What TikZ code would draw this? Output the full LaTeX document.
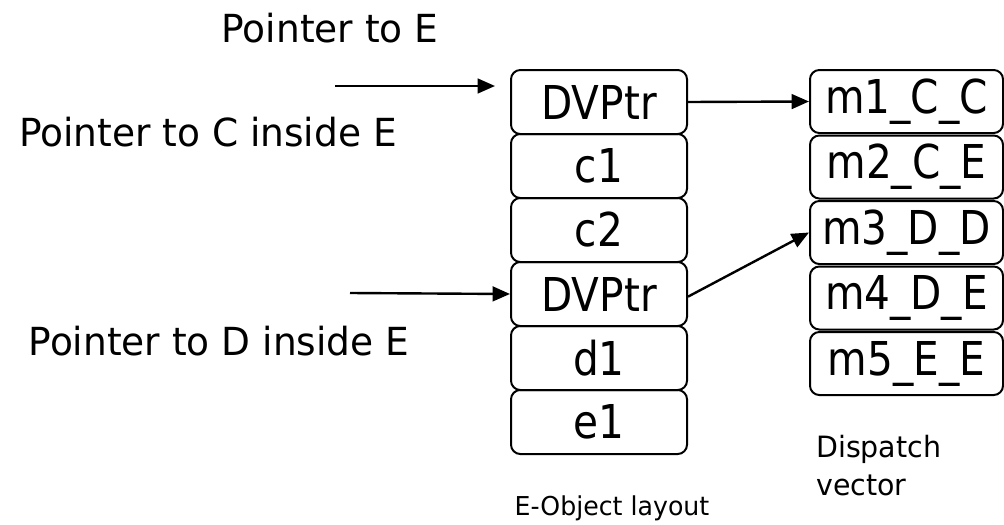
\documentclass[tikz,border=0pt]{standalone}
\usepackage{fontspec}
\setmainfont[FakeStretch=0.97]{DejaVu Sans}
\newfontfamily\cellfont[FakeStretch=0.87]{DejaVu Sans}
\usetikzlibrary{arrows.meta}

\tikzset{
  cell/.style={draw, line width=1.5pt, rounded corners=7pt, inner sep=0pt,
    minimum width=132pt, minimum height=48pt, font=\cellfont\fontsize{35}{42}\selectfont},
  slot/.style={cell, minimum width=144.75pt, minimum height=47.25pt},
  txt/.style={anchor=base, inner sep=0pt, font=\fontsize{29}{35}\selectfont},
  small/.style={inner sep=0pt, align=left, font=\fontsize{22}{28.5}\selectfont},
  ptr/.style={line width=1.8pt, -{Triangle[length=13pt,width=11pt]}}
}

\begin{document}
\begin{tikzpicture}[x=0.75pt,y=-0.75pt]
  \useasboundingbox (0,0) rectangle (1004,525);

  % object layout of E
  \node[cell] (dvc) at (599,102) {DVPtr};
  \node[cell] (c1)  at (599,166) {c1};
  \node[cell] (c2)  at (599,230) {c2};
  \node[cell] (dvd) at (599,294) {DVPtr};
  \node[cell] (d1)  at (599,358) {d1};
  \node[cell] (e1)  at (599,422) {e1};

  % dispatch vector
  \node[slot] (m1) at (906.5,101.5) {m1\_C\_C};
  \node[slot] (m2) at (906.5,167)   {m2\_C\_E};
  \node[slot] (m3) at (906.5,232.5) {m3\_D\_D};
  \node[slot] (m4) at (906.5,298)   {m4\_D\_E};
  \node[slot] (m5) at (906.5,363.5) {m5\_E\_E};

  % pointer labels
  \node[txt] (pe) at (330,42)  {Pointer to E};
  \node[txt] (pc) at (208,146) {Pointer to C inside E};
  \node[txt] (pd) at (219,355) {Pointer to D inside E};

  \node[small, anchor=base, font=\fontsize{19.5}{24}\selectfont] (lay) at (612,515) {E-Object layout};
  \node[small, anchor=base west] (dsp) at (816,495) {Dispatch\\vector};

  % incoming pointers
  \coordinate (ptrE) at (335,86);
  \coordinate (tipE) at (495,86);
  \coordinate (ptrD) at (350,293);
  \draw[ptr] (ptrE) -- (tipE);
  \draw[ptr] (ptrD) -- (dvd.west);

  % vtable links
  \draw[ptr] (dvc.east) -- (m1.west);
  \draw[ptr] ([yshift=-2pt]dvd.east) -- (m3.west);
\end{tikzpicture}
\end{document}
